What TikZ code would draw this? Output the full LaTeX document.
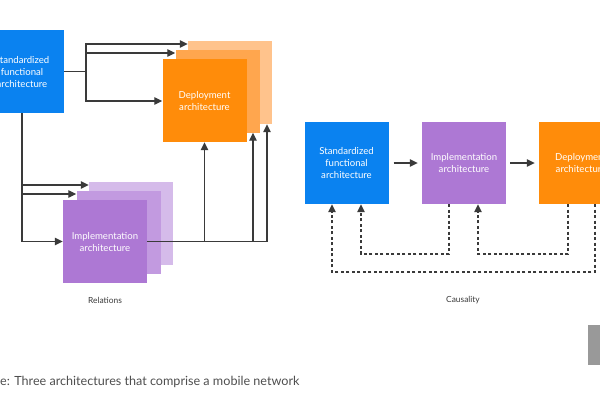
\documentclass[tikz,border=0pt]{standalone}
\usepackage{fontspec}
\setmainfont{Lato}
\usetikzlibrary{arrows.meta}
\definecolor{ericblue}{HTML}{0A82F0}
\definecolor{implpurple}{HTML}{AD78D4}
\definecolor{implpurple2}{HTML}{C29AE0}
\definecolor{implpurple3}{HTML}{D5BBEA}
\definecolor{deplorange}{HTML}{FF8C0A}
\definecolor{deplorange2}{HTML}{FFA64E}
\definecolor{deplorange3}{HTML}{FFC38C}
\definecolor{linegray}{HTML}{3A3A3A}
\begin{document}
\begin{tikzpicture}
	[x=1pt,y=-1pt,
	 arch/.style={minimum width=84pt,minimum height=83pt,inner sep=0pt,text=white,align=center,font=\fontsize{9.6}{12}\selectfont},
	 link/.style={draw=linegray,line width=1.2pt},
	 dots/.style={link,dash pattern=on 3pt off 2.5pt},
	 >={Triangle[length=8pt,width=7.5pt]}]
	\useasboundingbox (0,0) rectangle (600,400);
	% Relations
	\node[arch,fill=ericblue,name=sfa]at(22,71.5){Standardized\\functional\\architecture};
	\node[arch,fill=deplorange3,name=dep3]at(230,82.5){};
	\node[arch,fill=deplorange2,name=dep2]at(217.5,91){};
	\node[arch,fill=deplorange,name=dep1]at(204.5,100.5){Deployment\\architecture};
	\node[arch,fill=implpurple3,name=imp3]at(131,223.5){};
	\node[arch,fill=implpurple2,name=imp2]at(118.5,232){};
	\node[arch,fill=implpurple,name=imp1]at(105,241.5){Implementation\\architecture};
	\coordinate (fork1) at (86,71.5);
	\coordinate (fork2) at (267,241.5);
	\draw[link] (sfa.east) -- (fork1);
	\draw[link,->] (fork1) |- (dep3.west |- 0,44);
	\draw[link,->] (fork1) |- (dep2.west |- 0,53);
	\draw[link,->] (fork1) |- (dep1.west |- 0,101);
	\draw[link,->] (sfa.south) |- (imp3.west |- 0,185);
	\draw[link,->] (sfa.south) |- (imp2.west |- 0,194);
	\draw[link,->] (sfa.south) |- (imp1.west);
	\draw[link] (imp1.east) -- (fork2);
	\draw[link,->] (dep1.south |- fork2) -- (dep1.south);
	\draw[link,->] (fork2 -| 253,0) -- (dep2.south -| 253,0);
	\draw[link,->] (fork2) -- (dep3.south -| fork2);
	\node[font=\fontsize{8.4}{10}\selectfont,text=linegray,name=rel]at(105,300){Relations};
	% Causality
	\node[arch,fill=ericblue,minimum height=82pt,name=sfb]at(346.5,163){Standardized\\functional\\architecture};
	\node[arch,fill=implpurple,minimum height=82pt,name=impb]at(464,163){Implementation\\architecture};
	\node[arch,fill=deplorange,minimum height=82pt,name=depb]at(581,163){Deployment\\architecture};
	\draw[link,->] ([xshift=5pt]sfb.east) -- ([xshift=-4pt]impb.west);
	\draw[link,->] ([xshift=4pt]impb.east) -- ([xshift=-4pt]depb.west);
	\draw[dots,->] (impb.south -| 449,0) |- (361,254) -- (sfb.south -| 361,0);
	\draw[dots,->] (depb.south -| 568,0) |- (478,254) -- (impb.south -| 478,0);
	\draw[dots,->] (depb.south -| 595,0) |- (332,272) -- (sfb.south -| 332,0);
	\node[font=\fontsize{8.4}{10}\selectfont,text=linegray,name=caus]at(463,300){Causality};
	% caption
	\node[anchor=west,inner sep=0pt,font=\fontsize{12.6}{15}\selectfont,text=linegray!90,name=cap]at(0,382){e: Three architectures that comprise a mobile network};
	\fill[gray!80,name=tab] (588,325) rectangle (600,365);
\end{tikzpicture}
\end{document}
